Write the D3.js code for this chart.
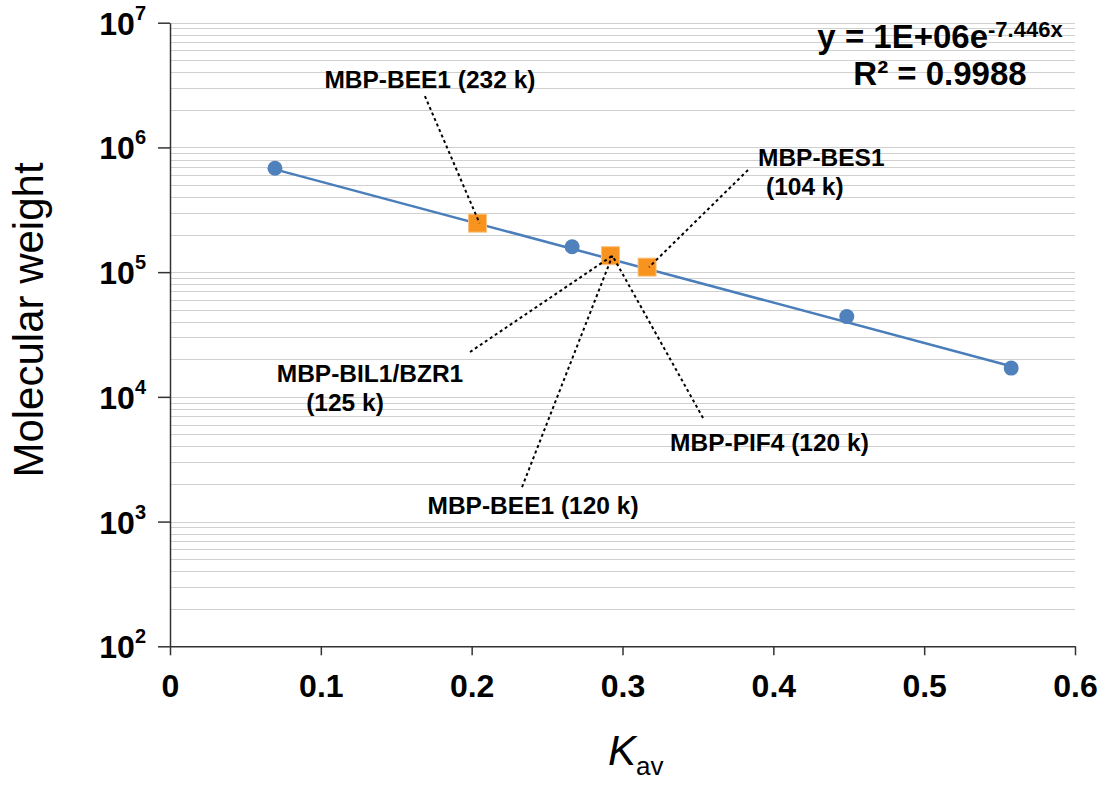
<!DOCTYPE html>
<html>
<head>
<meta charset="utf-8">
<script src="https://cdn.jsdelivr.net/npm/d3@7"></script>
<style>
  body { margin: 0; background: #fff; }
  svg { font-family: "Liberation Sans", Arial, sans-serif; }
</style>
</head>
<body>
<svg class="chart" width="1105" height="785"></svg>
<script>
// standards (blue circles)
var standardKav = [0.0696, 0.2666, 0.4487, 0.5577];
var standardMW = [680000, 160000, 44000, 17000];
// MBP fusion proteins (orange squares)
var sampleKav = [0.2039, 0.2920, 0.3163];
var sampleMW = [247000, 135500, 109700];
// exponential trendline, as shown on the chart
var fitA = 1.12e6, fitB = -7.446;
var trendKav = [0.0696, 0.5577];
// ticks
var xTicks = [0, 0.1, 0.2, 0.3, 0.4, 0.5, 0.6];
var yExponents = [2, 3, 4, 5, 6, 7];
// labels: text lines, which square it points to, where the leader starts (data units)
var labelText = [["MBP-BEE1 (232 k)"], ["MBP-BES1", "(104 k)"], ["MBP-BIL1/BZR1", "(125 k)"], ["MBP-PIF4 (120 k)"], ["MBP-BEE1 (120 k)"]];
var labelTarget = [0, 2, 1, 1, 1];
var leaderKav = [0.169, 0.3832, 0.1989, 0.3534, 0.2334];
var leaderMW = [2.58e6, 6.59e5, 2.29e4, 6770, 1892];

var svg = d3.select("svg.chart");
var margin = {top: 22.7, right: 30, bottom: 138.7, left: 170};
var width = 1105 - margin.left - margin.right,
    height = 785 - margin.top - margin.bottom;

var x = d3.scaleLinear().domain([0, 0.6]).range([margin.left, margin.left + width]);
var y = d3.scaleLog().domain([1e2, 1e7]).range([margin.top + height, margin.top]);

// gridlines (major + minor on log scale)
var grid = [];
yExponents.forEach(function(e) {
  if (e == 7) { grid.push(1e7); return; }
  for (var k = 1; k < 10; k++) grid.push(k * Math.pow(10, e));
});
svg.append("g").selectAll("line").data(grid).enter().append("line")
    .attr("x1", x(0)).attr("x2", x(0.6))
    .attr("y1", function(d) { return Math.round(y(d)) + 0.5; })
    .attr("y2", function(d) { return Math.round(y(d)) + 0.5; })
    .attr("stroke", "#d0d0d0")
    .attr("stroke-width", 1);

// axes
var xAxis = svg.append("g")
    .attr("transform", "translate(0," + (margin.top + height) + ")")
    .call(d3.axisBottom(x).tickValues(xTicks).tickSize(9).tickSizeOuter(0).tickPadding(19)
      .tickFormat(function(d) { return d === 0 ? "0" : d3.format(".1f")(d); }));
xAxis.selectAll("text").attr("font-size", 32).attr("font-weight", "bold").attr("fill", "#000");

var yAxis = svg.append("g")
    .attr("transform", "translate(" + margin.left + ",0)")
    .call(d3.axisLeft(y).tickValues(yExponents.map(function(e) { return Math.pow(10, e); }))
      .tickSize(12).tickSizeOuter(0).tickPadding(12).tickFormat(""));
yAxis.selectAll(".tick text").each(function(d) {
  var t = d3.select(this).attr("font-size", 32).attr("font-weight", "bold").attr("fill", "#000")
      .attr("dy", "0.36em");
  t.append("tspan").text("10");
  t.append("tspan").attr("font-size", 20).attr("dy", "-0.75em").text(Math.round(Math.log10(d)));
});
svg.selectAll(".domain, .tick line").attr("stroke", "#333").attr("stroke-width", 1.5);

// trendline
var line = d3.line()
    .x(function(d) { return x(d); })
    .y(function(d) { return y(fitA * Math.exp(fitB * d)); });
svg.append("path")
    .datum(trendKav)
    .attr("fill", "none")
    .attr("stroke", "#4a7ebb")
    .attr("stroke-width", 2.5)
    .attr("d", line);

// standards
svg.append("g").selectAll("circle").data(standardKav).enter().append("circle")
    .attr("cx", function(d) { return x(d); })
    .attr("cy", function(d, i) { return y(standardMW[i]); })
    .attr("r", 7.5)
    .attr("fill", "#4f81bd");

// samples
var sq = 18;
svg.append("g").selectAll("rect").data(sampleKav).enter().append("rect")
    .attr("x", function(d) { return x(d) - sq / 2; })
    .attr("y", function(d, i) { return y(sampleMW[i]) - sq / 2; })
    .attr("width", sq).attr("height", sq)
    .attr("fill", "#f7931e")
    .attr("stroke", "#fbc27e")
    .attr("stroke-width", 1);

// leader lines
svg.append("g").selectAll("line").data(labelText).enter().append("line")
    .attr("x1", function(d, i) { return x(leaderKav[i]); })
    .attr("y1", function(d, i) { return y(leaderMW[i]); })
    .attr("x2", function(d, i) { return x(sampleKav[labelTarget[i]]) + 2; })
    .attr("y2", function(d, i) { return y(sampleMW[labelTarget[i]]); })
    .attr("stroke", "#000")
    .attr("stroke-width", 2)
    .attr("stroke-dasharray", "3,3");

// label text placement relative to leader start (pixels)
var labelDx = [[5], [10, 18], [-100, -125], [-33], [11]];
var labelDy = [[-8], [-4, 25], [30, 59], [33], [27]];
var labelAnchor = ["middle", "start", "middle", "start", "middle"];
labelText.forEach(function(lines, i) {
  var x0 = x(leaderKav[i]), y0 = y(leaderMW[i]);
  lines.forEach(function(s, j) {
    svg.append("text")
      .attr("x", x0 + labelDx[i][j])
      .attr("y", y0 + labelDy[i][j])
      .attr("text-anchor", labelAnchor[i])
      .attr("font-size", 24.5)
      .attr("font-weight", "bold")
      .text(s);
  });
});

// equation
var eq = svg.append("text")
    .attr("x", 940).attr("y", 48)
    .attr("text-anchor", "middle")
    .attr("font-size", 33).attr("font-weight", "bold");
eq.append("tspan").text("y = 1E+06e");
eq.append("tspan").attr("font-size", 22).attr("dy", -11).text("-7.446x");
svg.append("text")
    .attr("x", 940).attr("y", 85)
    .attr("text-anchor", "middle")
    .attr("font-size", 33).attr("font-weight", "bold")
    .text("R\u00b2 = 0.9988");

// axis titles
svg.append("text")
    .attr("transform", "translate(43,320) rotate(-90)")
    .attr("text-anchor", "middle")
    .attr("font-size", 42)
    .text("Molecular weight");

var kt = svg.append("text")
    .attr("x", 608).attr("y", 765)
    .attr("font-size", 42);
kt.append("tspan").attr("font-style", "italic").text("K");
kt.append("tspan").attr("font-size", 26).attr("dy", 10).text("av");
</script>
</body>
</html>
